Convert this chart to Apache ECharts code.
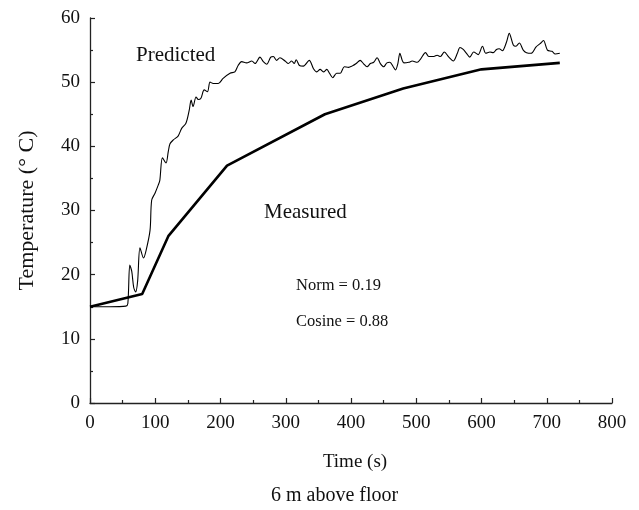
<!DOCTYPE html>
<html><head><meta charset="utf-8">
<script src="https://cdn.jsdelivr.net/npm/echarts@6/dist/echarts.min.js"></script>
<style>html,body{margin:0;padding:0;background:#fff}#c{width:639px;height:510px}</style>
</head><body><div id="c"></div>
<script>
const xTicks = [0,100,200,300,400,500,600,700,800];
const yTicks = [0,10,20,30,40,50,60];
const measuredTime = [0,80,120,210,360,480,600,720];
const measuredTemp = [15,17,26,37,45,49,52,53];
const predictedTime = [0,30,55,58,61,64,67,70,73,76.6,82,86,92,94.5,99.6,104.7,107,111,116.5,120,122.6,127.7,135,140.5,147,152,155,158,162.5,166,170,175,180,184,189,196.6,204,214.6,222,227,232.5,240,248,253,260.5,265.6,270.8,277,281,286,291,299,304,309,313,316,321,327,336,342.5,347.6,352.7,357.8,363,367,372,378,383.6,389.7,396.4,401.5,408,414,419,424.6,429.7,434.8,440,445,450,455,459.6,464.7,468.3,471.8,474.9,478.5,481,488.7,493.8,501.5,506.6,514.2,519.3,527,532,537,543,550,556.7,563,567,572,577,582,588,595,601.5,606.6,613,618,623,627,632,638.5,642.5,648.7,652.8,658,664,669,676,683.7,689.8,695,701,708,713,720];
const predictedTemp = [15,15,15.1,15.5,21.5,20.5,18,17.3,19,24.2,22.6,23.8,26.9,31.6,32.7,34,34.7,38.2,37.4,39.2,40.4,41,41.6,42.8,43.6,45.6,47.2,46.2,47.7,47.3,47.5,48.8,48.5,50,49.8,49.8,50.6,51.4,51.6,52.6,53.2,53,53.3,52.9,53.9,53.2,52.8,53.9,54,53.4,53.8,53.3,52.9,53.3,52.9,53.5,52.6,52.5,53.4,52.1,51.6,52,51.6,52,51.4,50.7,51.4,51.4,52.4,52.3,52.5,52.9,53.4,52.9,52.4,52.9,53.1,53.8,52.9,52.4,53,53.1,52.4,51.9,52.9,54.5,53.4,53,53.1,53.3,53.1,53.6,54.6,54,54,54.2,54,54.7,53.9,53.3,54.5,55.4,55.1,54.5,53.9,54.7,54.3,55.6,54.5,54.7,54.6,55.1,55.2,54.9,56.3,57.6,55.8,55.6,56.1,55,54.6,54.5,55.5,56,56.5,55,54.8,54.4,54.5];
const labels = {predicted:'Predicted', measured:'Measured', norm:'Norm = 0.19', cosine:'Cosine = 0.88', caption:'6 m above floor', xName:'Time (s)', yName:'Temperature (° C)'};

const FONT = '"Liberation Serif", "DejaVu Serif", serif';
const FS = 19;
const axisCol = '#222';
const chart = echarts.init(document.getElementById('c'), null, {renderer:'canvas'});
const zip = (a,b)=>a.map((v,i)=>[v,b[i]]);
chart.setOption({
  animation:false,
  backgroundColor:'#fff',
  grid:{left:90,right:27,top:18,bottom:107},
  xAxis:{type:'value',min:xTicks[0],max:xTicks[xTicks.length-1],interval:100,
    name:labels.xName,nameLocation:'middle',nameGap:50,
    nameTextStyle:{fontFamily:FONT,fontSize:FS,color:'#111',padding:[0,0,0,8]},
    axisLine:{lineStyle:{color:axisCol,width:1.3}},
    axisTick:{inside:true,length:5,lineStyle:{color:axisCol,width:1.2}},
    minorTick:{show:true,splitNumber:2,length:3,lineStyle:{color:axisCol,width:1.2}},
    axisLabel:{fontFamily:FONT,fontSize:FS,color:'#111',margin:11},
    splitLine:{show:false}},
  yAxis:{type:'value',min:yTicks[0],max:yTicks[yTicks.length-1],interval:10,
    name:labels.yName,nameLocation:'middle',nameGap:52,
    nameTextStyle:{fontFamily:FONT,fontSize:22,color:'#111'},
    axisLine:{show:true,lineStyle:{color:axisCol,width:1.3}},
    axisTick:{show:true,inside:true,length:5,lineStyle:{color:axisCol,width:1.2}},
    minorTick:{show:true,splitNumber:2,length:3,lineStyle:{color:axisCol,width:1.2}},
    axisLabel:{fontFamily:FONT,fontSize:FS,color:'#111',margin:10},
    splitLine:{show:false}},
  series:[
    {type:'line',data:zip(predictedTime,predictedTemp),showSymbol:false,smooth:0.3,
      lineStyle:{color:'#000',width:1.1}},
    {type:'line',data:zip(measuredTime,measuredTemp),showSymbol:false,
      lineStyle:{color:'#000',width:2.6}}
  ],
  graphic:[
    {type:'text',left:136,top:45,style:{text:labels.predicted,font:'21px '+FONT,fill:'#111'}},
    {type:'text',left:264,top:202,style:{text:labels.measured,font:'21px '+FONT,fill:'#111'}},
    {type:'text',left:296,top:277,style:{text:labels.norm,font:'16.5px '+FONT,fill:'#111'}},
    {type:'text',left:296,top:313,style:{text:labels.cosine,font:'16.5px '+FONT,fill:'#111'}},
    {type:'text',left:271,top:486,style:{text:labels.caption,font:'20px '+FONT,fill:'#111'}}
  ]
});
</script></body></html>
